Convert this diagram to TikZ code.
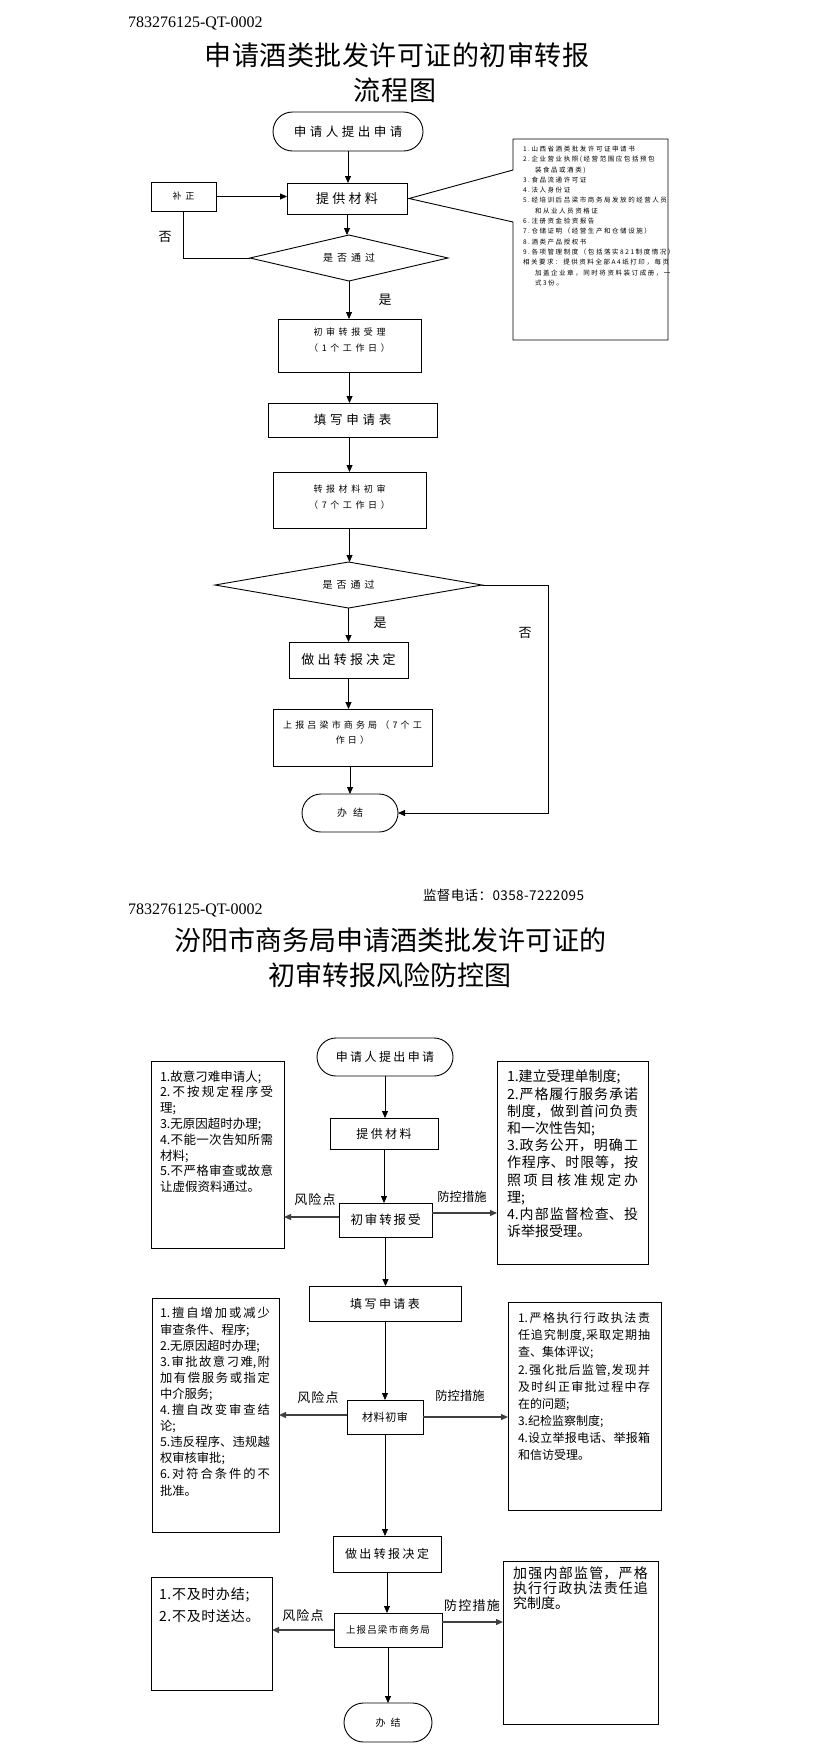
\documentclass[tikz,border=0pt]{standalone}
\usepackage{fontspec}
\setmainfont{Liberation Serif}
\newfontfamily\cjk{Noto Sans CJK SC}
\usetikzlibrary{arrows.meta,shapes.geometric,shapes.misc,calc}
\XeTeXlinebreaklocale "zh"
\XeTeXlinebreakskip=0pt plus 6pt
\tolerance=9999
\newcommand\fsz[3]{\cjk\fontsize{#1}{#2}\selectfont\addfontfeature{LetterSpace=#3}\parindent=0pt}
\begin{document}
\begin{tikzpicture}[x=1pt,y=-1pt,
  every node/.style={inner sep=0pt, outer sep=0pt},
  bx/.style={draw, line width=0.9pt, rectangle},
  term/.style={draw, line width=0.9pt, rounded rectangle},
  dia/.style={draw, line width=0.9pt, diamond, aspect=4},
  arr/.style={-{Triangle[length=7pt,width=6pt]}, line width=0.8pt},
  sarr/.style={-{Triangle[length=7pt,width=6pt]}, line width=1.2pt, draw=black!75, fill=black!75},
  lbl/.style={font=\fsz{13}{15}{0}},
  risk/.style={font=\fsz{13}{15}{8}},
  meas/.style={font=\fsz{12.3}{15}{0}},
  jtxt/.style={anchor=north west, align=justify}
]
\fill[white] (0,0) rectangle (823,1757);
\useasboundingbox (0,0) rectangle (823,1757);

% ---------------- header 1
\node[anchor=west, font=\fontsize{16}{18}\selectfont] (code1) at (128,23) {783276125-QT-0002};
\node[font=\fsz{27}{30}{2}] (t1) at (397,55) {申请酒类批发许可证的初审转报};
\node[font=\fsz{27}{30}{2}] (t2) at (395,90) {流程图};

% ---------------- flow 1
\node[term, minimum width=150, minimum height=39, font=\fsz{12.5}{14}{28}] (a1) at (348,131.5) {申请人提出申请};
\node[bx, minimum width=120, minimum height=31, font=\fsz{13}{15}{25}] (a2) at (347,198.5) {提供材料};
\node[bx, minimum width=65, minimum height=29, font=\fsz{9}{11}{40}] (az) at (183.5,196.5) {补正};
\node[dia, minimum width=198, minimum height=46, font=\fsz{10}{12}{40}] (ad1) at (349,258) {是否通过};
\node[bx, minimum width=143, minimum height=53] (a3) at (349.5,345.5) {};
\node[align=center, font=\fsz{9}{16}{40}] (a3t) at (349.5,340) {初审转报受理\\（1个工作日）};
\node[bx, minimum width=169, minimum height=34, font=\fsz{12.5}{14}{30}] (a4) at (352.5,420) {填写申请表};
\node[bx, minimum width=153, minimum height=56] (a5) at (349.5,500) {};
\node[align=center, font=\fsz{9}{16}{40}] (a5t) at (349.5,497) {转报材料初审\\（7个工作日）};
\node[dia, minimum width=267, minimum height=46, font=\fsz{10}{12}{40}] (ad2) at (348.5,585) {是否通过};
\node[bx, minimum width=119, minimum height=36, font=\fsz{13}{15}{25}] (a6) at (348.5,660) {做出转报决定};
\node[bx, minimum width=159, minimum height=57] (a7) at (352.5,737.5) {};
\node[align=center, font=\fsz{9}{15}{35}] (a7t) at (352.5,732.5) {上报吕梁市商务局（7个工\\作日）};
\node[term, minimum width=96, minimum height=38, font=\fsz{10}{12}{60}] (a8) at (350,813) {办结};

\draw[arr] (a1.south) -- (a1.south |- a2.north);
\draw[arr] (az.east) -- (az.east -| a2.west);
\draw[arr] (a2.south) -- (a2.south |- ad1.north);
\draw[line width=0.8pt] (az.south) |- (ad1.west);
\draw[arr] (ad1.south) -- (ad1.south |- a3.north);
\draw[arr] (a3.south) -- (a3.south |- a4.north);
\draw[arr] (a5.north |- a4.south) -- (a5.north);
\draw[arr] (a5.south) -- (a5.south |- ad2.north);
\draw[arr] (ad2.south) -- (ad2.south |- a6.north);
\draw[arr] (a6.south) -- (a6.south |- a7.north);
\draw[arr] (a8.north |- a7.south) -- (a8.north);
\coordinate (rx) at (548,586);
\draw[arr] (ad2.east) -- (ad2.east -| rx) |- (a8.east);

\node[lbl] (n1) at (165,237) {否};
\node[lbl] (y1) at (385,300) {是};
\node[lbl] (y2) at (380,623) {是};
\node[lbl] (n2) at (525,633) {否};

% callout
\coordinate (ctl) at (513,139);
\coordinate (ctr) at (668,139);
\coordinate (cbr) at (668,340);
\coordinate (cbl) at (513,340);
\coordinate (cp1) at (513,170);
\coordinate (cp2) at (513,222);
\draw[line width=0.9pt] (cp1) -- ([xshift=2pt]a2.east) -- (cp2) -- (cbl) -- (cbr) -- (ctr) -- (ctl) -- cycle;
\node[anchor=north west, align=left, font=\fsz{6.5}{10.3}{24}] (ctext) at (523,146) {1.山西省酒类批发许可证申请书\\
2.企业营业执照(经营范围应包括预包\\
\hspace*{12pt}装食品或酒类)\\
3.食品流通许可证\\
4.法人身份证\\
5.经培训后吕梁市商务局发放的经营人员\\
\hspace*{12pt}和从业人员资格证\\
6.注册资金验资报告\\
7.仓储证明（经营生产和仓储设施）\\
8.酒类产品授权书\\
9.各项管理制度（包括落实821制度情况）\\
相关要求：提供资料全部A4纸打印，每页\\
\hspace*{12pt}加盖企业章，同时将资料装订成册，一\\
\hspace*{12pt}式3份。};

% ---------------- header 2
\node[anchor=west, font=\fsz{13.5}{15}{3}] (tel) at (423,895) {监督电话：0358-7222095};
\node[anchor=west, font=\fontsize{16}{18}\selectfont] (code2) at (128,910) {783276125-QT-0002};
\node[font=\fsz{27}{30}{0}] (t3) at (390.5,940) {汾阳市商务局申请酒类批发许可证的};
\node[font=\fsz{27}{30}{0}] (t4) at (390,975) {初审转报风险防控图};

% ---------------- flow 2
\node[term, minimum width=136, minimum height=38, font=\fsz{12}{14}{20}] (s2) at (385,1057) {申请人提出申请};
\node[bx, minimum width=108, minimum height=31, font=\fsz{12}{14}{20}] (c1) at (384,1133.5) {提供材料};
\node[bx, minimum width=93, minimum height=34, font=\fsz{12.5}{14}{15}] (c2) at (385.5,1220) {初审转报受};
\node[bx, minimum width=152, minimum height=35, font=\fsz{12}{14}{20}] (c3) at (385,1303.5) {填写申请表};
\node[bx, minimum width=76, minimum height=34, font=\fsz{11}{13}{5}] (c4) at (385,1417) {材料初审};
\node[bx, minimum width=108, minimum height=36, font=\fsz{12}{14}{20}] (c5) at (387,1554) {做出转报决定};
\node[bx, minimum width=108, minimum height=34, font=\fsz{9.5}{11}{12}] (c6) at (388,1630) {上报吕梁市商务局};
\node[term, minimum width=88, minimum height=39, font=\fsz{10}{12}{50}] (e2) at (388,1722.5) {办结};

\node[bx, minimum width=133, minimum height=187] (r1) at (217.5,1154.5) {};
\node[bx, minimum width=151, minimum height=203] (m1) at (572.5,1162.5) {};
\node[bx, minimum width=127, minimum height=234] (r2) at (215.5,1415) {};
\node[bx, minimum width=153, minimum height=208] (m2) at (584.5,1406) {};
\node[bx, minimum width=121, minimum height=113] (r3) at (211.5,1633.5) {};
\node[bx, minimum width=155, minimum height=163] (m3) at (580.5,1642.5) {};

\node[jtxt, text width=113pt, font=\fsz{12.5}{15.8}{0}] (r1t) at (160,1070.5) {1.故意刁难申请人;\\
2.不按规定程序受\linebreak 理;\\
3.无原因超时办理;\\
4.不能一次告知所需\linebreak 材料;\\
5.不严格审查或故意\linebreak 让虚假资料通过。};
\node[jtxt, text width=131pt, font=\fsz{14}{17.2}{0}] (m1t) at (507,1070) {1.建立受理单制度;\\
2.严格履行服务承诺\linebreak 制度，做到首问负责\linebreak 和一次性告知;\\
3.政务公开，明确工\linebreak 作程序、时限等，按\linebreak 照项目核准规定办\linebreak 理;\\
4.内部监督检查、投\linebreak 诉举报受理。};
\node[jtxt, text width=110pt, font=\fsz{12.3}{16.1}{0}] (r2t) at (160,1307.5) {1.擅自增加或减少\linebreak 审查条件、程序;\\
2.无原因超时办理;\\
3.审批故意刁难,附\linebreak 加有偿服务或指定\linebreak 中介服务;\\
4.擅自改变审查结\linebreak 论;\\
5.违反程序、违规越\linebreak 权审核审批;\\
6.对符合条件的不\linebreak 批准。};
\node[jtxt, text width=132pt, font=\fsz{12}{17.1}{0}] (m2t) at (518,1312.6) {1.严格执行行政执法责\linebreak 任追究制度,采取定期抽\linebreak 查、集体评议;\\
2.强化批后监管,发现并\linebreak 及时纠正审批过程中存\linebreak 在的问题;\\
3.纪检监察制度;\\
4.设立举报电话、举报箱\linebreak 和信访受理。};
\node[anchor=north west, align=left, font=\fsz{14}{22}{5}] (r3t) at (159,1588) {1.不及时办结;\\2.不及时送达。};
\node[jtxt, text width=135pt, font=\fsz{14}{15}{0}] (m3t) at (513,1567) {加强内部监管，严格\linebreak 执行行政执法责任追\linebreak 究制度。};

% vertical connectors
\draw[arr] (s2.south) -- (s2.south |- c1.north);
\draw[arr] (c1.south) -- (c1.south |- c2.north);
\draw[arr] (c2.south) -- (c2.south |- c3.north);
\draw[arr] (c3.south) -- (c3.south |- c4.north);
\draw[arr] (c4.south) -- (c4.south |- c5.north);
\draw[arr] (c5.south) -- (c5.south |- c6.north);
\draw[arr] (c6.south) -- (c6.south |- e2.north);

% side connectors
\draw[sarr] ([yshift=3pt]c2.west) -- ([yshift=3pt]c2.west -| r1.east);
\draw[sarr] ([yshift=7pt]c2.east) -- ([yshift=7pt]c2.east -| m1.west);
\draw[sarr] ([yshift=2pt]c4.west) -- ([yshift=2pt]c4.west -| r2.east);
\draw[sarr] (c4.east) -- (c4.east -| m2.west);
\draw[sarr] (c6.west) -- (c6.west -| r3.east);
\draw[sarr] ([yshift=8pt]c6.east) -- ([yshift=8pt]c6.east -| m3.west);

\node[risk] (k1) at (315,1200) {风险点};
\node[meas] (p1) at (462,1197) {防控措施};
\node[risk] (k2) at (318,1398) {风险点};
\node[meas] (p2) at (460,1396) {防控措施};
\node[risk] (k3) at (303,1615) {风险点};
\node[font=\fsz{13}{15}{10}] (p3) at (472,1606) {防控措施};
\end{tikzpicture}
\end{document}
